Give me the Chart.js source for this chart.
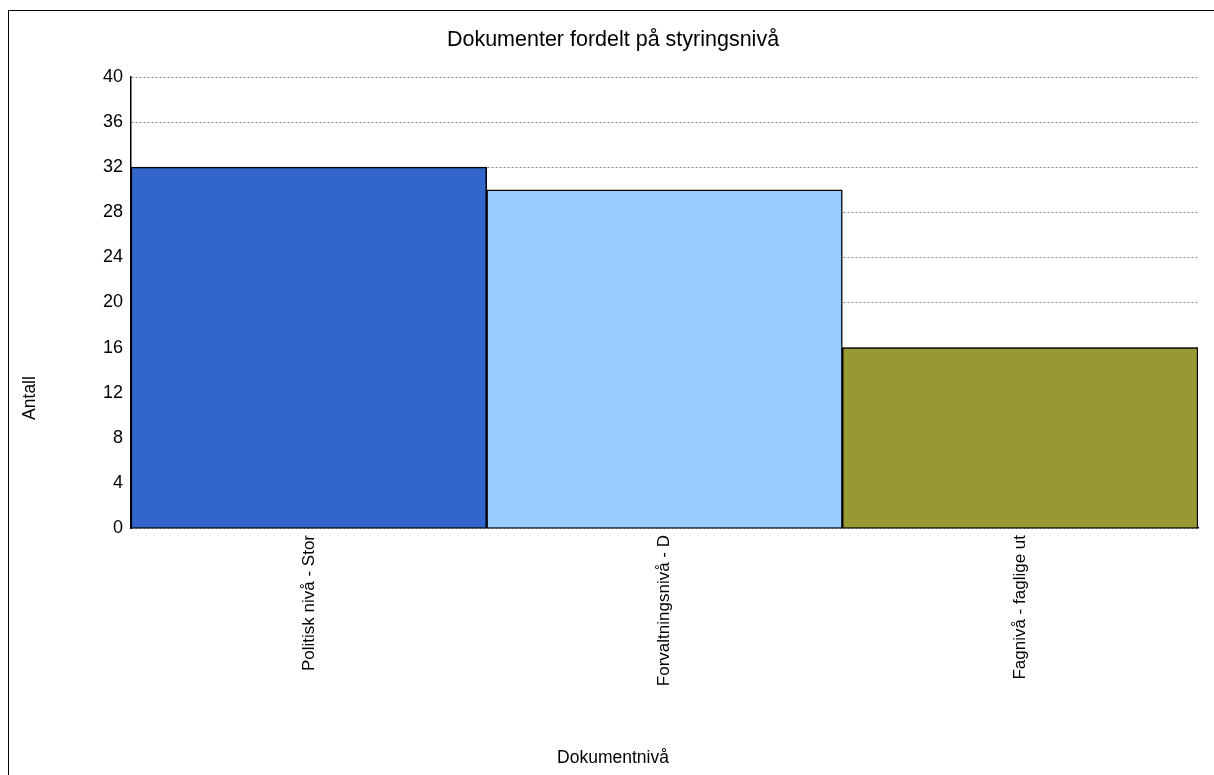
<!DOCTYPE html>
<html lang="no">
<head>
  <meta charset="UTF-8">
  <title>Dokumenter fordelt på styringsnivå</title>
  <script src="https://cdn.jsdelivr.net/npm/chart.js"></script>
  <style>
    html, body {
      margin: 0;
      padding: 0;
      background: #fff;
      overflow: hidden;
    }
    .frame {
      position: absolute;
      left: 8px;
      top: 10px;
      width: 1220px;
      height: 800px;
      border-left: 1px solid #000;
      border-top: 1px solid #000;
    }
    .wrap {
      position: absolute;
      left: 0;
      top: 0;
      width: 1214px;
      height: 775px;
    }
  </style>
</head>
<body>
  <div class="frame"></div>
  <div class="wrap"><canvas id="chart"></canvas></div>

  <script>
    const categories = ['Politisk nivå - Stor', 'Forvaltningsnivå - D', 'Fagnivå - faglige ut'];
    const antall = [32, 30, 16];
    const barColors = ['#3366CC', '#99CCFF', '#999933'];
    const yMax = 40;
    const yStep = 4;
    const chartTitle = 'Dokumenter fordelt på styringsnivå';
    const xTitle = 'Dokumentnivå';
    const yTitle = 'Antall';

    const font = 'Arial, "Liberation Sans", sans-serif';

    // titles are centred on the whole picture, not on the plot area
    const titles = {
      id: 'titles',
      afterDraw(chart) {
        const ctx = chart.ctx;
        ctx.save();
        ctx.fillStyle = '#000';
        ctx.textAlign = 'center';
        ctx.textBaseline = 'middle';
        ctx.font = '21.5px ' + font;
        ctx.fillText(chartTitle, 613, 40);
        ctx.font = '17.5px ' + font;
        ctx.fillText(xTitle, 613, 758);
        ctx.translate(30, 398);
        ctx.rotate(-Math.PI / 2);
        ctx.fillText(yTitle, 0, 0);
        ctx.restore();
      }
    };

    new Chart(document.getElementById('chart'), {
      type: 'bar',
      data: {
        labels: categories,
        datasets: [{
          label: yTitle,
          data: antall,
          backgroundColor: barColors,
          borderColor: '#000',
          borderWidth: 1.5,
          barPercentage: 1,
          categoryPercentage: 1
        }]
      },
      options: {
        responsive: true,
        maintainAspectRatio: false,
        animation: false,
        layout: { padding: { left: 0, right: 16, top: 77, bottom: 0 } },
        plugins: {
          legend: { display: false },
          tooltip: { enabled: false },
          title: { display: false }
        },
        scales: {
          x: {
            grid: { display: false, drawTicks: false },
            border: { display: true, color: '#000', width: 1.5 },
            ticks: {
              color: '#000',
              font: { family: font, size: 17 },
              minRotation: 90,
              maxRotation: 90,
              padding: 7,
              autoSkip: false
            },
            afterFit: scale => { scale.height = 247; }
          },
          y: {
            min: 0,
            max: yMax,
            grid: { color: '#888', lineWidth: 1, drawTicks: false },
            border: { display: true, color: '#000', width: 1.5, dash: [2, 2] },
            ticks: {
              stepSize: yStep,
              color: '#000',
              font: { family: font, size: 18 },
              padding: 8
            },
            afterFit: scale => { scale.width = 131; }
          }
        }
      },
      plugins: [titles]
    });
  </script>
</body>
</html>
